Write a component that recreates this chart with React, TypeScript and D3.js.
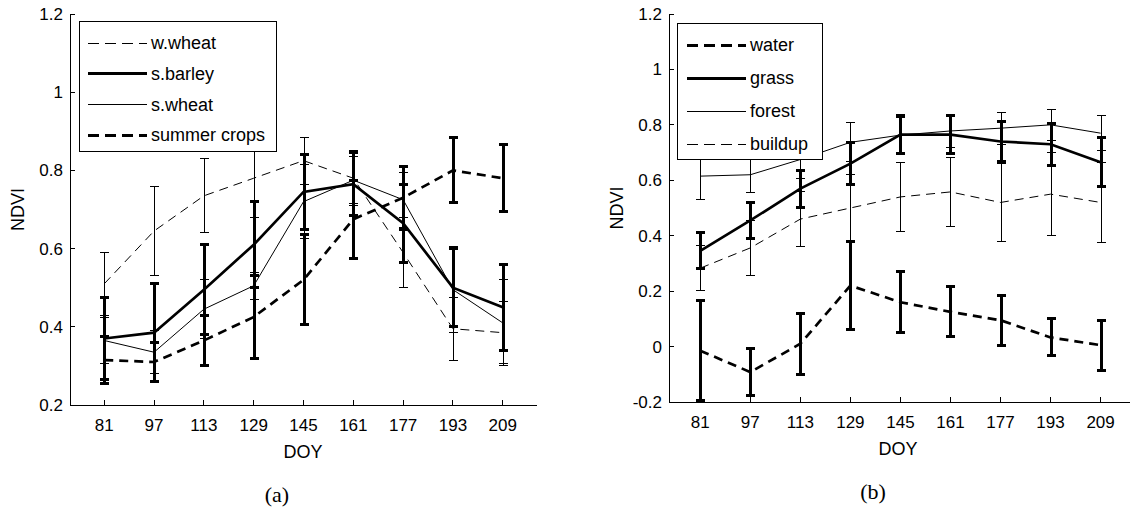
import React from 'react';
import * as d3 from 'd3';

// day of year on the x axis (both panels)
const doy = [81, 97, 113, 129, 145, 161, 177, 193, 209];

// panel (a) y ticks
const ticksA = [0.2, 0.4, 0.6, 0.8, 1, 1.2];
const tickLabelsA = ['0.2', '0.4', '0.6', '0.8', '1', '1.2'];
// panel (b) y ticks
const ticksB = [-0.2, 0, 0.2, 0.4, 0.6, 0.8, 1, 1.2];
const tickLabelsB = ['-0.2', '0', '0.2', '0.4', '0.6', '0.8', '1', '1.2'];

// panel (a): crops
const wWheatMean = [0.51, 0.645, 0.735, 0.78, 0.825, 0.78, 0.59, 0.395, 0.385];
const wWheatErr = [0.08, 0.115, 0.095, 0.1, 0.06, 0.07, 0.09, 0.08, 0.08];
const sBarleyMean = [0.37, 0.385, 0.495, 0.61, 0.745, 0.765, 0.665, 0.5, 0.45];
const sBarleyErr = [0.105, 0.125, 0.115, 0.11, 0.095, 0.08, 0.1, 0.1, 0.11];
const sWheatMean = [0.365, 0.335, 0.445, 0.505, 0.72, 0.775, 0.725, 0.495, 0.41];
const sWheatErr = [0.06, 0.055, 0.075, 0.035, 0.095, 0.06, 0.07, 0.11, 0.11];
const summerMean = [0.315, 0.31, 0.365, 0.425, 0.52, 0.675, 0.73, 0.8, 0.78];
const summerErr = [0.06, 0.05, 0.065, 0.105, 0.115, 0.1, 0.08, 0.083, 0.085];

// panel (b): other land covers
const waterMean = [-0.015, -0.092, 0.01, 0.22, 0.16, 0.125, 0.095, 0.033, 0.005];
const waterErr = [0.18, 0.085, 0.11, 0.16, 0.11, 0.09, 0.09, 0.067, 0.09];
const grassMean = [0.345, 0.455, 0.57, 0.66, 0.765, 0.765, 0.74, 0.73, 0.665];
const grassErr = [0.065, 0.065, 0.067, 0.075, 0.07, 0.07, 0.072, 0.075, 0.088];
const forestMean = [0.615, 0.62, 0.675, 0.737, 0.763, 0.778, 0.788, 0.8, 0.77];
const forestErr = [0.085, 0.065, 0.07, 0.07, 0.065, 0.06, 0.058, 0.057, 0.062];
const buildupMean = [0.283, 0.356, 0.46, 0.5, 0.54, 0.558, 0.52, 0.55, 0.52];
const buildupErr = [0.08, 0.1, 0.1, 0.12, 0.125, 0.125, 0.14, 0.15, 0.145];

const seriesA = [
  { name: 'w.wheat', mean: wWheatMean, err: wWheatErr, thick: false, dashed: true },
  { name: 's.barley', mean: sBarleyMean, err: sBarleyErr, thick: true, dashed: false },
  { name: 's.wheat', mean: sWheatMean, err: sWheatErr, thick: false, dashed: false },
  { name: 'summer crops', mean: summerMean, err: summerErr, thick: true, dashed: true },
];
const seriesB = [
  { name: 'water', mean: waterMean, err: waterErr, thick: true, dashed: true },
  { name: 'grass', mean: grassMean, err: grassErr, thick: true, dashed: false },
  { name: 'forest', mean: forestMean, err: forestErr, thick: false, dashed: false },
  { name: 'buildup', mean: buildupMean, err: buildupErr, thick: false, dashed: true },
];

const sans = '"Liberation Sans", Arial, sans-serif';
const serif = '"Liberation Serif", "Times New Roman", serif';

const Panel = ({ series, xDomain, xRange, yDomain, yRange, ticks, tickLabels, legend, caption, doyX }) => {
  const x = d3.scaleLinear().domain(xDomain).range(xRange);
  const y = d3.scaleLinear().domain(yDomain).range(yRange);
  const [x0, x1] = xRange;
  const [yb, yt] = yRange;
  const cap = 4.5;

  return (
    <g>
      {/* axes, box off */}
      <line x1={x0} x2={x0} y1={yt} y2={yb} stroke="#000" strokeWidth={1} shapeRendering="crispEdges" />
      <line x1={x0} x2={x1} y1={yb} y2={yb} stroke="#000" strokeWidth={1} shapeRendering="crispEdges" />
      {ticks.map((t, i) => (
        <g key={'yt' + i}>
          <line x1={x0} x2={x0 + 5} y1={y(t)} y2={y(t)} stroke="#000" shapeRendering="crispEdges" />
          <text x={x0 - 7} y={y(t)} dy="0.35em" textAnchor="end" fontFamily={sans} fontSize={17}>{tickLabels[i]}</text>
        </g>
      ))}
      {doy.map((d) => (
        <g key={'xt' + d}>
          <line x1={x(d)} x2={x(d)} y1={yb} y2={yb - 5} stroke="#000" shapeRendering="crispEdges" />
          <text x={x(d)} y={yb + 26} textAnchor="middle" fontFamily={sans} fontSize={17}>{d}</text>
        </g>
      ))}
      <text x={doyX} y={yb + 53} textAnchor="middle" fontFamily={sans} fontSize={18}>DOY</text>
      <text transform={`translate(${x0 - 46},${(yt + yb) / 2}) rotate(-90)`} textAnchor="middle" fontFamily={sans} fontSize={18}>NDVI</text>
      <text x={caption.x} y={caption.y} textAnchor="middle" fontFamily={serif} fontSize={22}>{caption.text}</text>

      {series.map((s) => {
        const line = d3.line<number>().x((_, i) => x(doy[i])).y((v) => y(v));
        const sw = s.thick ? 2.7 : 1;
        return (
          <g key={s.name}>
            <path d={line(s.mean) || ''} fill="none" stroke="#000" strokeWidth={sw}
              strokeDasharray={s.dashed ? '9,6' : undefined} />
            {s.mean.map((m, i) => {
              const cx = Math.round(x(doy[i])) + (s.thick ? 0 : 0.5);
              const top = y(m + s.err[i]);
              const bot = y(m - s.err[i]);
              return (
                <g key={i} stroke="#000" strokeWidth={s.thick ? 3 : 1} shapeRendering="crispEdges">
                  <line x1={cx} x2={cx} y1={top} y2={bot} />
                  <line x1={cx - cap} x2={cx + cap} y1={top} y2={top} />
                  <line x1={cx - cap} x2={cx + cap} y1={bot} y2={bot} />
                </g>
              );
            })}
          </g>
        );
      })}

      {/* legend */}
      <rect x={legend.x} y={legend.y} width={legend.w} height={legend.h} fill="#fff" stroke="#000" strokeWidth={1} shapeRendering="crispEdges" />
      {series.map((s, i) => {
        const ly = legend.y + legend.first + i * legend.step;
        return (
          <g key={'lg' + s.name}>
            <line x1={legend.lx0} x2={legend.lx1} y1={ly} y2={ly} stroke="#000" shapeRendering="crispEdges"
              strokeWidth={s.thick ? 3 : 1} strokeDasharray={s.dashed ? '11,6' : undefined} />
            <text x={legend.lx1 + 4} y={ly} dy="0.35em" fontFamily={sans} fontSize={18}>{s.name}</text>
          </g>
        );
      })}
    </g>
  );
};

const App = () => {
  return (
    <div style={{ position: 'absolute', left: 0, top: 0, width: 1130, height: 511, background: '#fff' }}>
      <svg width={1130} height={511} style={{ display: 'block' }}>
        <rect width={1130} height={511} fill="#fff" />
        <Panel
          series={seriesA}
          xDomain={[70, 220]} xRange={[70, 537]}
          yDomain={[0.2, 1.2]} yRange={[405, 14]}
          ticks={ticksA} tickLabels={tickLabelsA}
          legend={{ x: 79, y: 21, w: 197, h: 130, first: 22, step: 30.7, lx0: 88, lx1: 147 }}
          caption={{ x: 277, y: 502, text: '(a)' }}
          doyX={303}
        />
        <Panel
          series={seriesB}
          xDomain={[71, 220]} xRange={[669, 1135]}
          yDomain={[-0.2, 1.2]} yRange={[402, 14]}
          ticks={ticksB} tickLabels={tickLabelsB}
          legend={{ x: 677, y: 23, w: 145, h: 136, first: 22, step: 33, lx0: 687, lx1: 746 }}
          caption={{ x: 873, y: 499, text: '(b)' }}
          doyX={898}
        />
      </svg>
    </div>
  );
};

export default App;
